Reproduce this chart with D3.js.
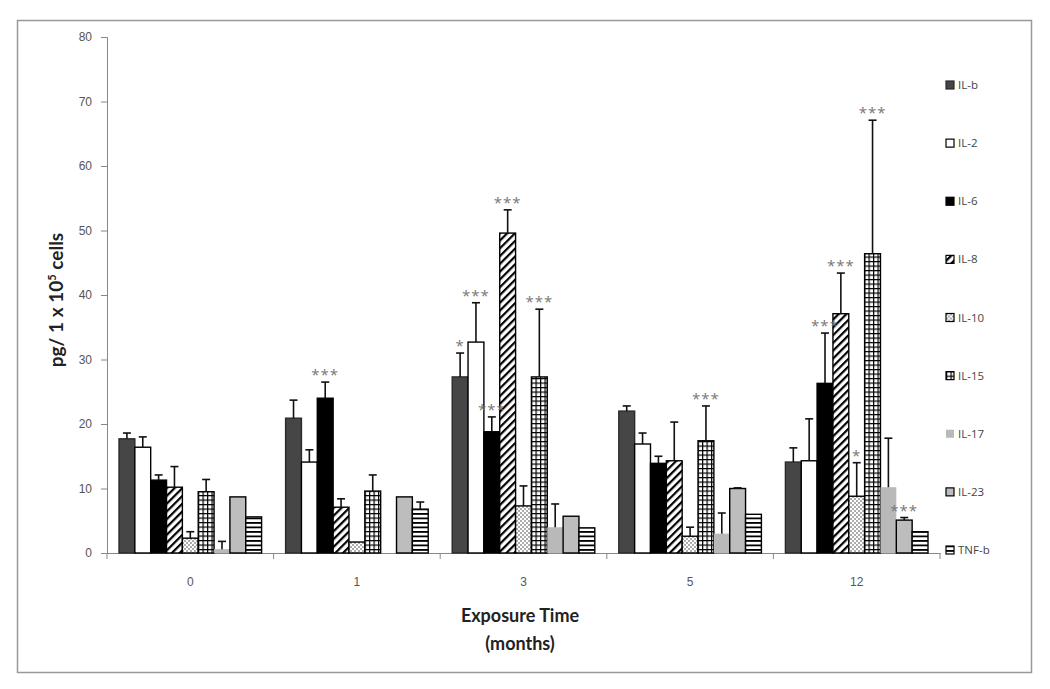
<!DOCTYPE html>
<html>
<head>
<meta charset="utf-8">
<script src="https://cdn.jsdelivr.net/npm/d3@7"></script>
<style>
  body { margin: 0; background: #fff; }
  svg { font-family: "Open Sans", "Liberation Sans", sans-serif; }
</style>
</head>
<body>
<div id="chart"></div>
<script>
// exposure time groups (months)
const groups = ["0", "1", "3", "5", "12"];
const series = ["IL-b", "IL-2", "IL-6", "IL-8", "IL-10", "IL-15", "IL-17", "IL-23", "TNF-b"];
const yTicks = [0, 10, 20, 30, 40, 50, 60, 70, 80];

// mean values, one array per cytokine, in group order
const ilB   = [17.7, 20.9, 27.3, 22.0, 14.1];
const il2   = [16.4, 14.1, 32.7, 16.9, 14.3];
const il6   = [11.3, 24.0, 18.8, 13.9, 26.3];
const il8   = [10.2, 7.1, 49.6, 14.3, 37.1];
const il10  = [2.3, 1.7, 7.3, 2.6, 8.8];
const il15  = [9.5, 9.6, 27.3, 17.4, 46.4];
const il17  = [0.6, 0, 4.0, 3.0, 10.2];
const il23  = [8.7, 8.7, 5.7, 10.0, 5.1];
const tnfB  = [5.6, 6.8, 3.9, 6.0, 3.3];

// error (upper whisker length)
const ilBErr  = [0.9, 2.8, 3.7, 0.8, 2.2];
const il2Err  = [1.6, 1.9, 6.1, 1.7, 6.5];
const il6Err  = [0.8, 2.5, 2.3, 1.1, 7.8];
const il8Err  = [3.2, 1.3, 3.6, 6.0, 6.3];
const il10Err = [1.0, 0, 3.1, 1.4, 5.2];
const il15Err = [1.9, 2.5, 10.5, 5.4, 20.7];
const il17Err = [1.2, 0, 3.6, 3.2, 7.6];
const il23Err = [0, 0, 0, 0.1, 0.4];
const tnfBErr = [0, 1.1, 0, 0, 0];

// significance marks
const ilBSig  = ["", "", "*", "", ""];
const il2Sig  = ["", "", "***", "", ""];
const il6Sig  = ["", "***", "***", "", "***"];
const il8Sig  = ["", "", "***", "", "***"];
const il10Sig = ["", "", "", "", "*"];
const il15Sig = ["", "", "***", "***", "***"];
const il17Sig = ["", "", "", "", ""];
const il23Sig = ["", "", "", "", "***"];
const tnfBSig = ["", "", "", "", ""];

const values = [ilB, il2, il6, il8, il10, il15, il17, il23, tnfB];
const errors = [ilBErr, il2Err, il6Err, il8Err, il10Err, il15Err, il17Err, il23Err, tnfBErr];
const sigs = [ilBSig, il2Sig, il6Sig, il8Sig, il10Sig, il15Sig, il17Sig, il23Sig, tnfBSig];

const fills = ["#464646", "#ffffff", "#000000", "url(#diag)", "url(#dots)", "url(#grid)", "#b9b9b9", "#bdbdbd", "url(#hlines)"];
const strokes = ["#2a2a2a", "#000", "#000", "#000", "#000", "#000", "none", "#000", "#000"];

const width = 1050, height = 689;
const svg = d3.select("#chart").append("svg")
    .attr("width", width)
    .attr("height", height);

// patterns
const defs = svg.append("defs");
const diag = defs.append("pattern").attr("id", "diag")
    .attr("patternUnits", "userSpaceOnUse")
    .attr("width", 5.5).attr("height", 5.5)
    .attr("patternTransform", "rotate(45)");
diag.append("rect").attr("width", 5.5).attr("height", 5.5).attr("fill", "#fff");
diag.append("rect").attr("width", 2.2).attr("height", 5.5).attr("fill", "#000");

const dots = defs.append("pattern").attr("id", "dots")
    .attr("patternUnits", "userSpaceOnUse")
    .attr("width", 4).attr("height", 4);
dots.append("rect").attr("width", 4).attr("height", 4).attr("fill", "#fff");
dots.append("circle").attr("cx", 1).attr("cy", 1).attr("r", 0.75).attr("fill", "#333");
dots.append("circle").attr("cx", 3).attr("cy", 3).attr("r", 0.75).attr("fill", "#333");

const grid = defs.append("pattern").attr("id", "grid")
    .attr("patternUnits", "userSpaceOnUse")
    .attr("width", 4.5).attr("height", 4.5);
grid.append("rect").attr("width", 4.5).attr("height", 4.5).attr("fill", "#fff");
grid.append("rect").attr("width", 4.5).attr("height", 1.2).attr("fill", "#000");
grid.append("rect").attr("width", 1.2).attr("height", 4.5).attr("fill", "#000");

const hl = defs.append("pattern").attr("id", "hlines")
    .attr("patternUnits", "userSpaceOnUse")
    .attr("width", 4.5).attr("height", 4.5);
hl.append("rect").attr("width", 4.5).attr("height", 4.5).attr("fill", "#fff");
hl.append("rect").attr("width", 4.5).attr("height", 1.8).attr("fill", "#000");

// frame
svg.append("rect")
    .attr("x", 17.5).attr("y", 20.5)
    .attr("width", 1014).attr("height", 652)
    .attr("fill", "none")
    .attr("stroke", "#999")
    .attr("stroke-width", 1.5);

const x0 = d3.scaleBand().domain(groups).range([107, 940]);
const x1 = d3.scaleBand().domain(series).range([12, x0.bandwidth() - 12]);
const y = d3.scaleLinear().domain([0, 80]).range([553, 37]);

// y axis
const yAxis = svg.append("g")
    .attr("transform", "translate(107,0)")
    .call(d3.axisLeft(y).tickValues(yTicks).tickSize(6).tickPadding(9));
yAxis.selectAll("path, line").attr("stroke", "#888");
yAxis.selectAll("text").attr("font-size", 12).attr("fill", "#555");

// x axis
const xAxis = svg.append("g")
    .attr("transform", "translate(0,553)")
    .call(d3.axisBottom(x0).tickSize(0).tickPadding(24));
xAxis.select("path").attr("stroke", "#888");
xAxis.selectAll("text").attr("font-size", 12).attr("fill", "#555");
xAxis.selectAll(".sep")
    .data(groups.concat(["end"]))
    .join("line")
    .attr("class", "sep")
    .attr("x1", (d, i) => x0.range()[0] + i * x0.step())
    .attr("x2", (d, i) => x0.range()[0] + i * x0.step())
    .attr("y1", 0).attr("y2", 6)
    .attr("stroke", "#888");

// bars
const rows = [];
groups.forEach((g, gi) => {
    series.forEach((s, si) => {
        rows.push({g, s, si, v: values[si][gi], e: errors[si][gi], sig: sigs[si][gi]});
    });
});

const bars = svg.append("g");
bars.selectAll("rect")
    .data(rows.filter(d => d.v > 0))
    .join("rect")
    .attr("x", d => x0(d.g) + x1(d.s))
    .attr("y", d => y(d.v))
    .attr("width", x1.bandwidth())
    .attr("height", d => y(0) - y(d.v))
    .attr("fill", d => fills[d.si])
    .attr("stroke", d => strokes[d.si])
    .attr("stroke-width", 1.4);

// error bars
const errG = svg.append("g").attr("stroke", "#111").attr("stroke-width", 1.6);
rows.filter(d => d.e > 0).forEach(d => {
    const cx = x0(d.g) + x1(d.s) + x1.bandwidth() / 2;
    errG.append("line")
        .attr("x1", cx).attr("x2", cx)
        .attr("y1", y(d.v)).attr("y2", y(d.v + d.e));
    errG.append("line")
        .attr("x1", cx - 4).attr("x2", cx + 4)
        .attr("y1", y(d.v + d.e)).attr("y2", y(d.v + d.e));
});

// significance asterisks
svg.append("g").selectAll("text")
    .data(rows.filter(d => d.sig))
    .join("text")
    .attr("x", d => x0(d.g) + x1(d.s) + x1.bandwidth() / 2)
    .attr("y", d => y(d.v + d.e) - 2)
    .attr("text-anchor", "middle")
    .attr("font-size", 15)
    .attr("fill", "#777")
    .attr("letter-spacing", 1)
    .text(d => d.sig);

// legend
const legend = svg.append("g");
const ly = d3.scalePoint().domain(series).range([85, 550]);
series.forEach((s, i) => {
    const g = legend.append("g").attr("transform", `translate(946,${ly(s)})`);
    g.append("rect")
        .attr("x", 0).attr("y", -4)
        .attr("width", 8).attr("height", 8)
        .attr("fill", fills[i])
        .attr("stroke", strokes[i])
        .attr("stroke-width", 1.2);
    g.append("text")
        .attr("x", 12).attr("y", 4)
        .attr("font-size", 11.5)
        .attr("fill", "#444")
        .text(s);
});

// axis titles
svg.append("text")
    .attr("x", 520).attr("y", 622)
    .attr("text-anchor", "middle")
    .attr("font-family", "Lato, 'Open Sans', sans-serif")
    .attr("font-weight", "bold")
    .attr("font-size", 18)
    .attr("fill", "#222")
    .text("Exposure Time");
svg.append("text")
    .attr("x", 520).attr("y", 650)
    .attr("text-anchor", "middle")
    .attr("font-family", "Lato, 'Open Sans', sans-serif")
    .attr("font-weight", "bold")
    .attr("font-size", 18)
    .attr("fill", "#222")
    .text("(months)");

const yt = svg.append("text")
    .attr("transform", "translate(63,300) rotate(-90)")
    .attr("text-anchor", "middle")
    .attr("font-family", "Lato, 'Open Sans', sans-serif")
    .attr("font-weight", "bold")
    .attr("font-size", 19)
    .attr("fill", "#222");
yt.append("tspan").text("pg/ 1 x 10");
yt.append("tspan").attr("font-size", 11).attr("dy", -7).text("5");
yt.append("tspan").attr("dy", 7).text(" cells");
</script>
</body>
</html>
